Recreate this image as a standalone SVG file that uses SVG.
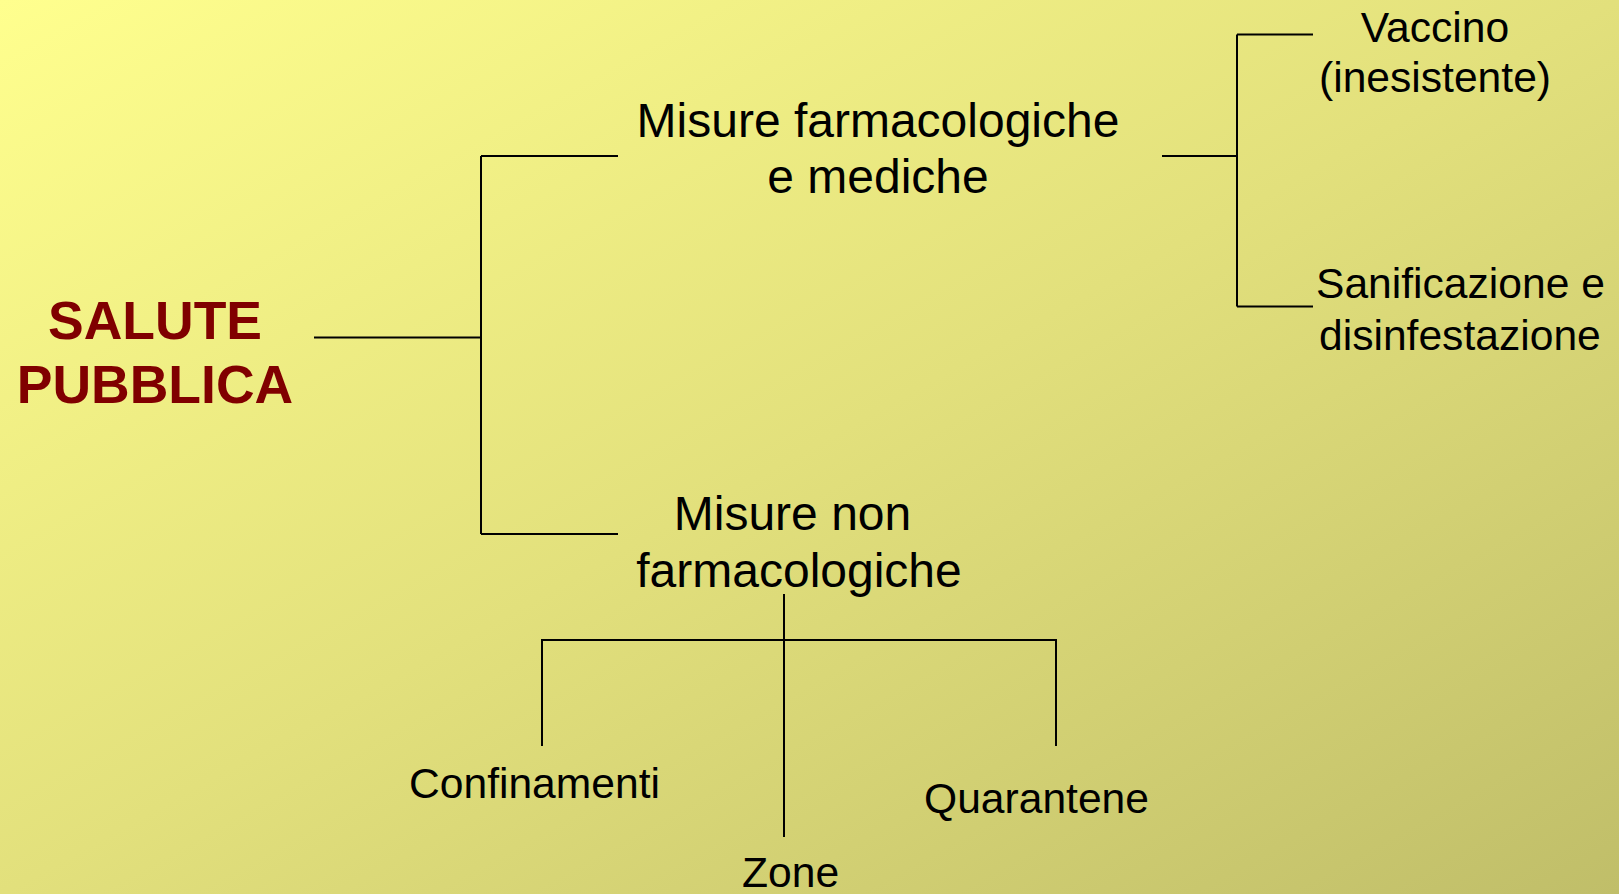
<svg xmlns="http://www.w3.org/2000/svg" width="1619" height="894" viewBox="0 0 1619 894">
<defs>
<linearGradient id="bg" x1="0" y1="0" x2="1" y2="1">
<stop offset="0" stop-color="#FFFF8E"/>
<stop offset="0.5" stop-color="#E2E07C"/>
<stop offset="1" stop-color="#C0BE69"/>
</linearGradient>
<style>
.t{font-family:"Liberation Sans",Arial,sans-serif;font-size:42.6px;fill:#000}
.m{font-size:48px}
.title{font-family:"Liberation Sans",Arial,sans-serif;font-size:53.5px;font-weight:bold;fill:#800000}
.c{text-anchor:middle}
.ln{stroke:#000;stroke-width:2;fill:none}
</style>
</defs>
<rect width="1619" height="894" fill="url(#bg)"/>
<g id="connectors">
<path class="ln" d="M314,337.5 H481 M481,156 V534 M481,156 H618 M481,534 H618"/>
<path class="ln" d="M1162,156 H1237 M1237,34.5 V306.5 M1237,34.5 H1313 M1237,306.5 H1313"/>
<path class="ln" d="M784,594 V837 M542,746 V640 H1056 V746"/>
</g>
<g id="salute-pubblica">
<text class="title c" x="155" y="339">SALUTE</text>
<text class="title c" x="155" y="403">PUBBLICA</text>
</g>
<g id="misure-farmacologiche">
<text class="t m c" x="878" y="137">Misure farmacologiche</text>
<text class="t m c" x="878" y="193">e mediche</text>
</g>
<g id="misure-non-farmacologiche">
<text class="t m c" x="792.5" y="530">Misure non</text>
<text class="t m c" x="799" y="587">farmacologiche</text>
</g>
<g id="vaccino">
<text class="t c" x="1435" y="42">Vaccino</text>
<text class="t c" x="1435" y="92">(inesistente)</text>
</g>
<g id="sanificazione">
<text class="t" x="1316" y="298">Sanificazione e</text>
<text class="t" x="1319" y="350">disinfestazione</text>
</g>
<g id="confinamenti">
<text class="t" x="409" y="798">Confinamenti</text>
</g>
<g id="zone">
<text class="t" x="742" y="887">Zone</text>
</g>
<g id="quarantene">
<text class="t" x="924" y="813">Quarantene</text>
</g>
</svg>
